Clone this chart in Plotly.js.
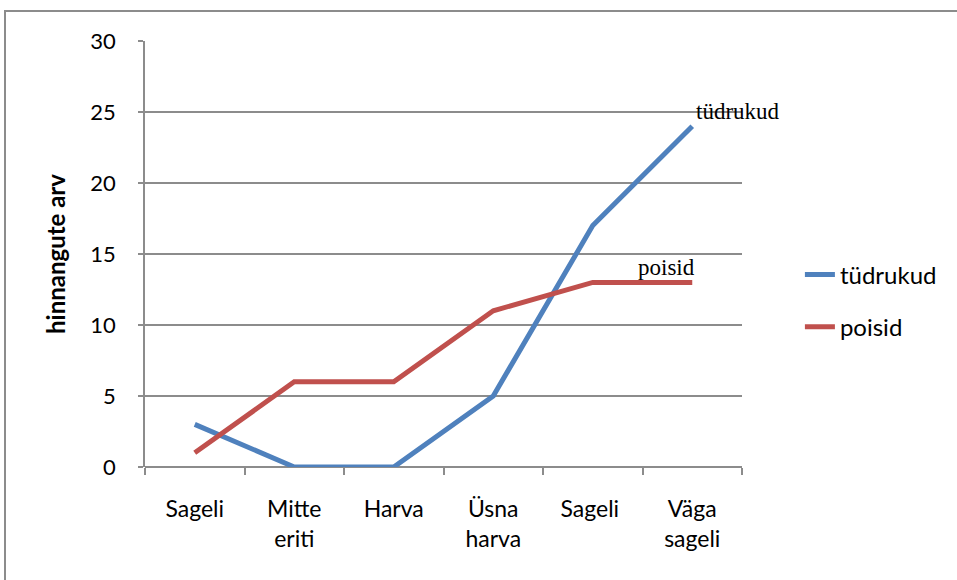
<!DOCTYPE html>
<html>
<head>
<meta charset="utf-8">
<script src="https://cdn.plot.ly/plotly-3.0.1.min.js"></script>
<style>
    body { margin: 0; background: #fff; }
    #chart { position: absolute; left: 0; top: 0; width: 957px; height: 580px; }
    #frame {
        position: absolute; left: 4px; top: 10px; width: 960px; height: 580px;
        border-left: 2px solid #8c8c8c; border-top: 2px solid #8c8c8c;
        pointer-events: none;
    }
</style>
</head>
<body>
<div id="chart"></div>
<div id="frame"></div>
<script>
// Hinnangute arv kategooriate kaupa
const categories = ['Sageli', 'Mitte<br>eriti', 'Harva', 'Üsna<br>harva', 'Sageli ', 'Väga<br>sageli'];
const girls = [3, 0, 0, 5, 17, 24];
const boys = [1, 6, 6, 11, 13, 13];
const yTicks = [0, 5, 10, 15, 20, 25, 30];

const fontMain = 'Lato, "Open Sans", sans-serif';
const fontSerif = '"Liberation Serif", "DejaVu Serif", serif';
const gridColor = '#8c8c8c';

function drawChart() {
    const trace1 = {
        x: categories,
        y: girls,
        name: 'tüdrukud',
        type: 'scatter',
        mode: 'lines',
        legendgroup: 'g1',
        line: { color: '#4F81BD', width: 5 }
    };

    const trace2 = {
        x: categories,
        y: boys,
        name: 'poisid',
        type: 'scatter',
        mode: 'lines',
        legendgroup: 'g2',
        line: { color: '#C0504D', width: 5 }
    };

    const last = categories.length - 1;

    const layout = {
        width: 957,
        height: 580,
        margin: { l: 145, r: 215, t: 41, b: 113 },
        paper_bgcolor: '#fff',
        plot_bgcolor: '#fff',
        font: { family: fontMain, color: '#000', size: 22 },
        xaxis: {
            type: 'category',
            range: [-0.5, categories.length - 0.5],
            tickson: 'boundaries',
            ticks: 'outside',
            ticklen: 7,
            tickcolor: gridColor,
            tickwidth: 1.5,
            showline: false,
            showgrid: false,
            zeroline: false,
            ticklabelstandoff: 26,
            tickfont: { size: 23 }
        },
        yaxis: {
            range: [0, 30],
            tickvals: yTicks,
            ticks: 'outside',
            ticklen: 5,
            tickcolor: gridColor,
            tickwidth: 1.5,
            showline: true,
            linecolor: gridColor,
            linewidth: 1.5,
            gridcolor: gridColor,
            gridwidth: 1.5,
            zeroline: true,
            zerolinecolor: gridColor,
            zerolinewidth: 1.5,
            ticklabelstandoff: 18,
            tickfont: { size: 22 },
            title: {
                text: '<b>hinnangute arv</b>',
                font: { size: 24, family: fontMain },
                standoff: 18
            }
        },
        showlegend: true,
        legend: {
            x: 1.097,
            xanchor: 'left',
            y: 0.39,
            yanchor: 'middle',
            tracegroupgap: 18,
            font: { size: 24 },
            bgcolor: 'rgba(0,0,0,0)'
        },
        annotations: [
            {
                x: categories[last],
                y: girls[last],
                text: 'tüdrukud',
                showarrow: false,
                xanchor: 'left',
                yanchor: 'bottom',
                xshift: 2,
                yshift: 0,
                font: { family: fontSerif, size: 23, color: '#000' }
            },
            {
                x: categories[last],
                y: boys[last],
                text: 'poisid',
                showarrow: false,
                xanchor: 'center',
                yanchor: 'bottom',
                xshift: -26,
                yshift: 0,
                font: { family: fontSerif, size: 23, color: '#000' }
            }
        ]
    };

    const config = { displayModeBar: false, responsive: false };

    Plotly.newPlot('chart', [trace1, trace2], layout, config);
}

drawChart();
</script>
</body>
</html>
